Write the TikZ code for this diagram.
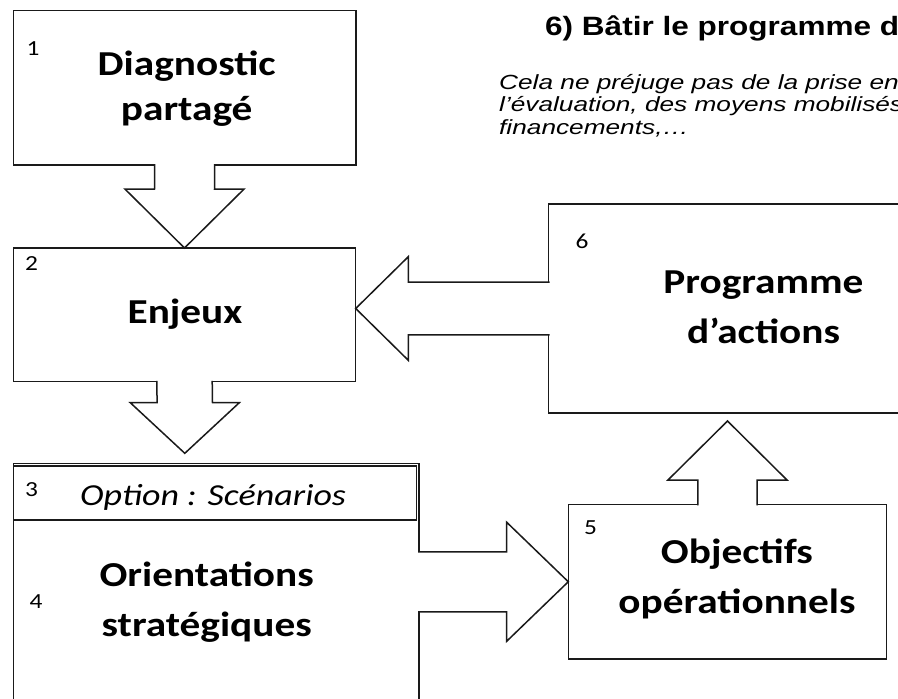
\documentclass[tikz,border=0pt]{standalone}
\usepackage{fontspec}
\usetikzlibrary{calc}
\newfontfamily\calfont[FakeStretch=1.18]{Carlito}
\newfontfamily\arfont[FakeStretch=1.19]{Liberation Sans}
\newfontfamily\arifont[FakeStretch=1.28]{Liberation Sans}
\definecolor{linecol}{HTML}{1A1A1A}
\tikzset{
  box/.style={draw=linecol, line width=1.5pt, fill=white, inner sep=0pt, outer sep=0pt, anchor=north west},
  blockarrow/.style={draw=linecol, line width=1.5pt, fill=white, line join=miter, miter limit=10},
  bigtext/.style={font=\calfont\bfseries\fontsize{35}{50}\selectfont, align=center, inner sep=0pt, anchor=base},
  numtext/.style={font=\calfont\fontsize{21.5}{22}\selectfont, inner sep=0pt, anchor=base west},
}
\begin{document}
\begin{tikzpicture}[x=1pt, y=-1pt]
\path[use as bounding box] (0,0) rectangle (898,699);
\clip (0,0) rectangle (898,699);
% boxes
\node[box, minimum width=342.7pt, minimum height=154.3pt] (b1) at (13.3,10.7) {};
\node[box, minimum width=342.4pt, minimum height=133.7pt] (b2) at (13.3,248) {};
\node[box, minimum width=405.7pt, minimum height=260pt] (b4) at (13.3,463.3) {};
\node[box, minimum width=403.1pt, minimum height=54pt] (b3) at (13.3,466) {};
\node[box, minimum width=318.4pt, minimum height=154.5pt] (b5) at (568.3,504.5) {};
\node[box, minimum width=380pt, minimum height=209pt] (b6) at (548.7,204) {};
% arrow 1 -> 2
\draw[blockarrow] ($(b1.south)+(-30,-0.8)$) -- ($(b2.north)+(-30,-59)$) -- ($(b2.north)+(-59.6,-59)$) -- (b2.north) -- ($(b2.north)+(59.6,-59)$) -- ($(b2.north)+(30,-59)$) -- ($(b1.south)+(30,-0.8)$);
% arrow 2 -> 3/4
\coordinate (t24) at ($(b2.south)+(0.3,71.6)$);
\draw[blockarrow] ($(b2.south)+(-27.7,-0.8)$) -- ($(t24)+(-27.7,-50.6)$) -- ($(t24)+(-54.5,-50.6)$) -- (t24) -- ($(t24)+(54.5,-50.6)$) -- ($(t24)+(27.7,-50.6)$) -- ($(b2.south)+(27.7,-0.8)$);
% arrow 6 -> 2
\coordinate (s62) at (b6.west);
\coordinate (t62) at (b2.east |- b6.west);
\draw[blockarrow] ($(s62)+(0.8,-26.3)$) -- ($(t62)+(52.6,-26.3)$) -- ($(t62)+(52.6,-51.8)$) -- (t62) -- ($(t62)+(52.6,51.8)$) -- ($(t62)+(52.6,26.3)$) -- ($(s62)+(0.8,26.3)$);
% arrow 4 -> 5
\coordinate (s45) at (b4.east |- b5.west);
\draw[blockarrow] ($(s45)+(-0.8,-30)$) -- ($(b5.west)+(-61.6,-30)$) -- ($(b5.west)+(-61.6,-59.5)$) -- (b5.west) -- ($(b5.west)+(-61.6,59.5)$) -- ($(b5.west)+(-61.6,30)$) -- ($(s45)+(-0.8,30)$);
% arrow 5 -> 6
\coordinate (t56) at ($(b5.north |- b6.south)+(0,8)$);
\draw[blockarrow] ($(b5.north)+(-29.7,0.8)$) -- ($(t56)+(-29.7,59)$) -- ($(t56)+(-59.5,59)$) -- (t56) -- ($(t56)+(59.5,59)$) -- ($(t56)+(29.7,59)$) -- ($(b5.north)+(29.7,0.8)$);
% box texts (base = baseline of the last line)
\node[bigtext, font=\calfont\bfseries\fontsize{35}{45.7}\selectfont] (tx1) at (186.7,120.7) {Diagnostic\\partagé};
\node[bigtext] (tx2) at (185,323.3) {Enjeux};
\node[bigtext] (tx4) at (206.7,636.7) {Orientations\\stratégiques};
\node[bigtext] (tx6) at (763.5,343.3) {Programme\\d’actions};
\node[bigtext] (tx5) at (737,613.3) {Objectifs\\opérationnels};
\node[font=\calfont\itshape\fontsize{30.5}{32}\selectfont, inner sep=0pt, anchor=base west] (tx3) at (80,505) {Option : Scénarios};
% numbers
\node[numtext] (n1) at (26.5,55) {1};
\node[numtext] (n2) at (25,270) {2};
\node[numtext] (n3) at (25,496.7) {3};
\node[numtext] (n4) at (29.5,608) {4};
\node[numtext] (n5) at (584,534.3) {5};
\node[numtext] (n6) at (575.5,248.3) {6};
% top texts
\node[font=\arfont\bfseries\fontsize{26.5}{30}\selectfont, anchor=base west, inner sep=0pt] (title) at (545,35) {6) Bâtir le programme d};
\node[font=\arifont\itshape\fontsize{20.5}{22.4}\selectfont, anchor=base west, align=left, inner sep=0pt] (note) at (499,134.1) {Cela ne préjuge pas de la prise en\\l’évaluation, des moyens mobilisés\\financements,…};
\end{tikzpicture}
\end{document}
